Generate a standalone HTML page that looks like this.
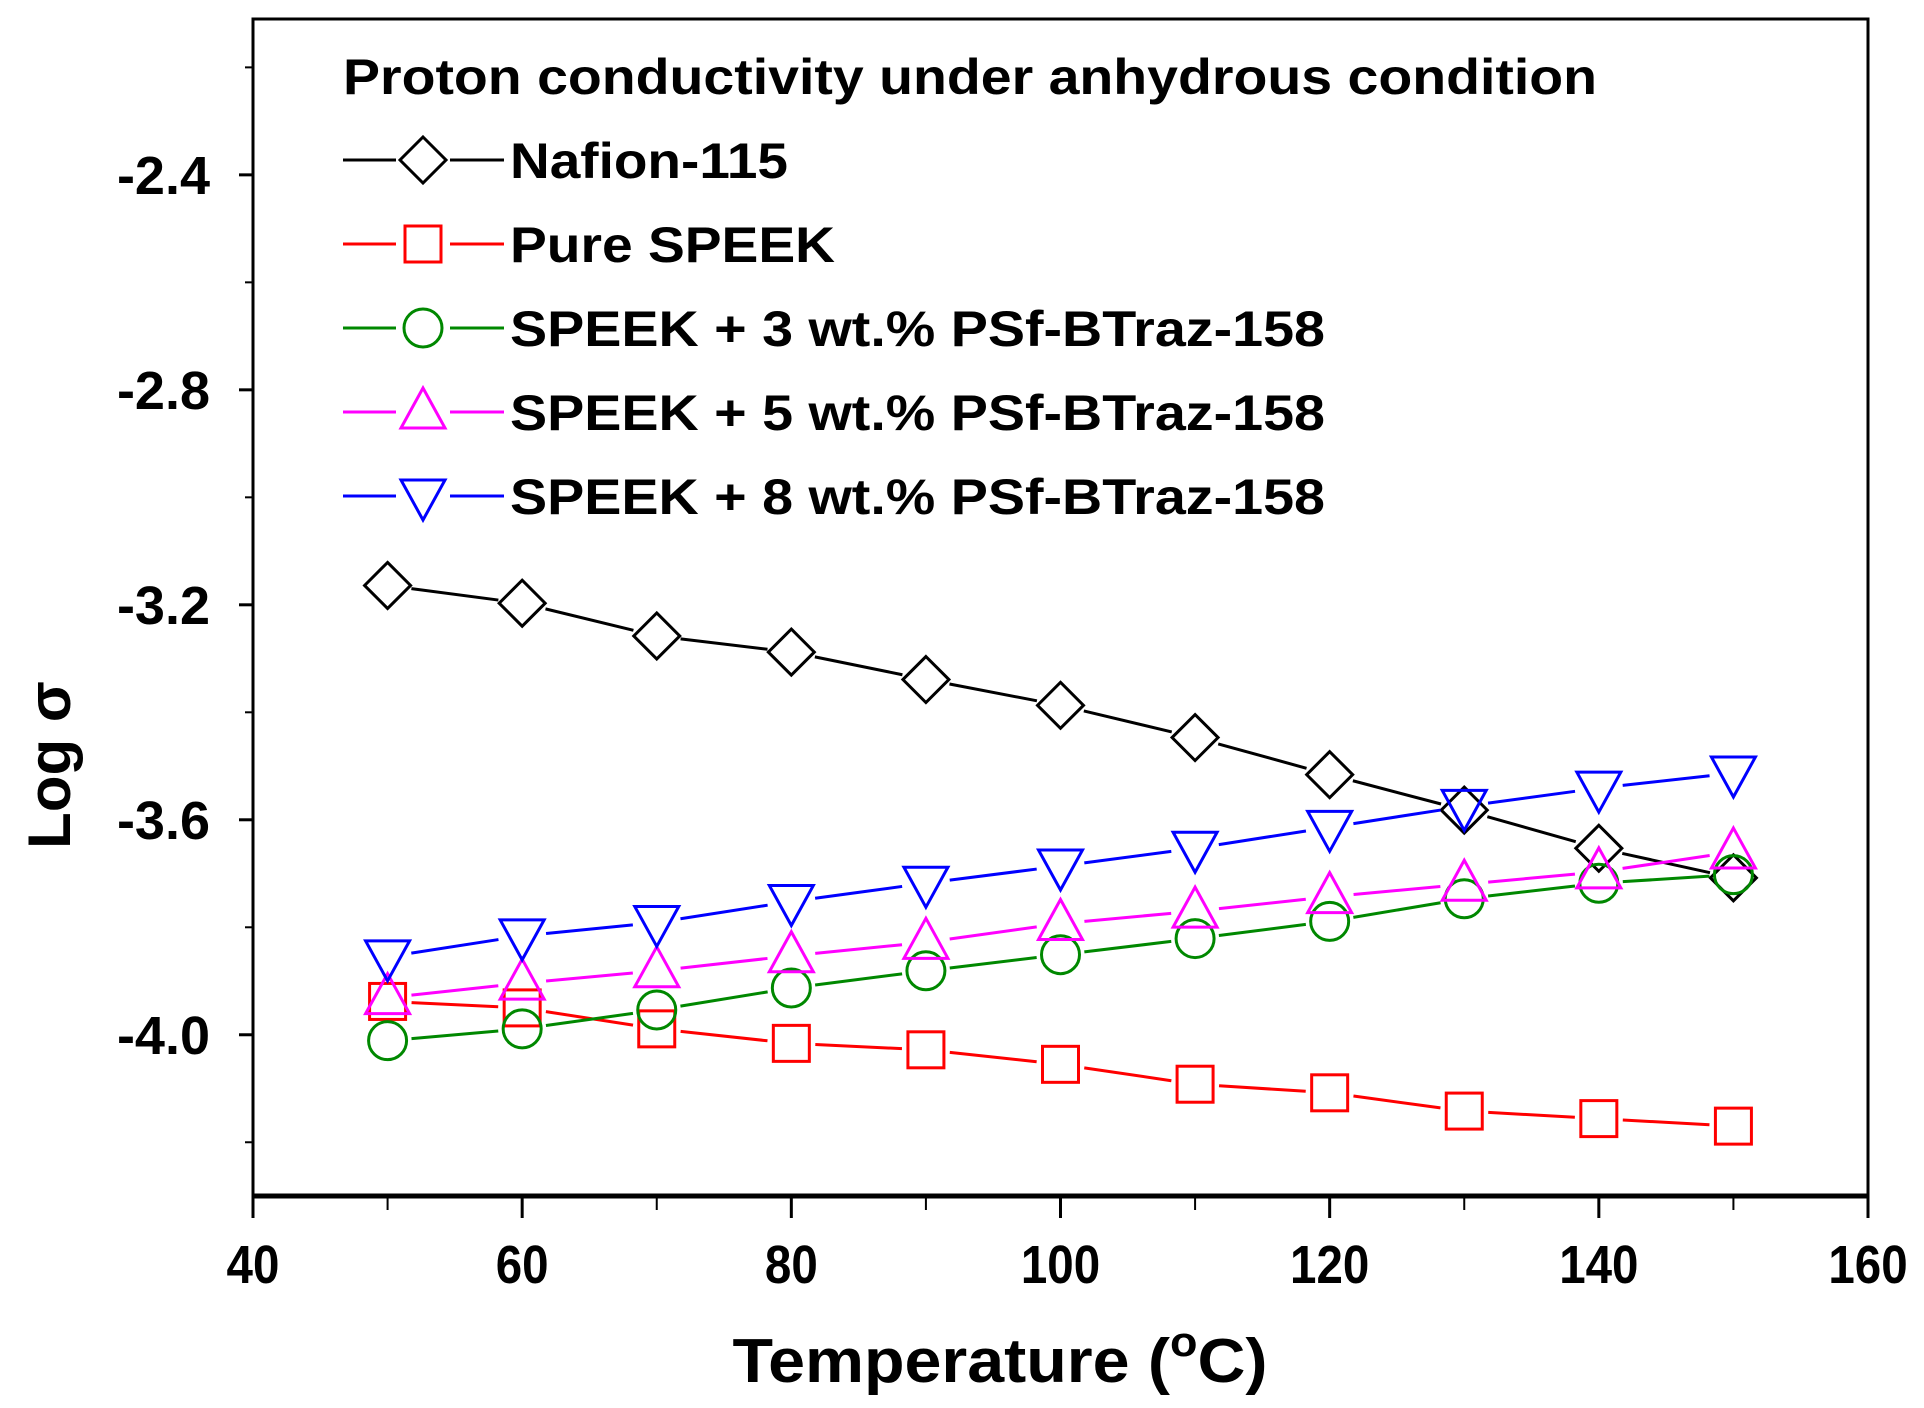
<!DOCTYPE html>
<html><head><meta charset="utf-8"><style>
body{margin:0;background:#fff}
svg{display:block}
text{font-family:"Liberation Sans",Arial,sans-serif;font-weight:bold;fill:#000}
</style></head><body>
<svg id="chart" width="1924" height="1408" viewBox="0 0 1924 1408" xmlns="http://www.w3.org/2000/svg">
<rect x="253" y="19" width="1615" height="1177" fill="none" stroke="#000" stroke-width="3"/>
<line x1="253" x2="1868" y1="1196" y2="1196" stroke="#000" stroke-width="5"/>
<g id="axes"></g>
<g id="series"></g>
<g id="legend"></g>
<text x="1000" y="1382" font-size="62" text-anchor="middle" textLength="535" lengthAdjust="spacingAndGlyphs">Temperature  (<tspan dy="-26" font-size="42">o</tspan><tspan dy="26">C)</tspan></text>
<text x="0" y="0" font-size="60" text-anchor="middle" transform="translate(70 765) rotate(-90)">Log σ</text>
</svg>
<script>
const temps=[50,60,70,80,90,100,110,120,130,140,150];
const nafion=[-3.164,-3.197,-3.258,-3.288,-3.339,-3.387,-3.447,-3.516,-3.582,-3.653,-3.708];
const pureSpeek=[-3.938,-3.95,-3.989,-4.016,-4.028,-4.055,-4.092,-4.108,-4.142,-4.156,-4.170];
const speek3=[-4.011,-3.989,-3.954,-3.913,-3.881,-3.851,-3.821,-3.789,-3.747,-3.718,-3.702];
const speek5=[-3.931,-3.904,-3.881,-3.853,-3.828,-3.793,-3.770,-3.743,-3.720,-3.697,-3.660];
const speek8=[-3.855,-3.816,-3.791,-3.752,-3.718,-3.686,-3.653,-3.614,-3.575,-3.541,-3.513];
const xTicks=[40,60,80,100,120,140,160];
const yTicks=[-2.4,-2.8,-3.2,-3.6,-4.0];
const yTickLabels=["-2.4","-2.8","-3.2","-3.6","-4.0"];
const legendLabels=["Nafion-115","Pure SPEEK","SPEEK + 3 wt.% PSf-BTraz-158","SPEEK + 5 wt.% PSf-BTraz-158","SPEEK + 8 wt.% PSf-BTraz-158"];
const legendWidths=[278,325,815,815,815];

const NS="http://www.w3.org/2000/svg";
const X0=253,X1=1868,Y0=1196,Y1=19;
const xMin=40,xMax=160,yMin=-4.30,yMax=-2.11;
function sx(v){return X0+(v-xMin)/(xMax-xMin)*(X1-X0);}
function sy(v){return Y0-(v-yMin)/(yMax-yMin)*(Y0-Y1);}
function mk(tag,attrs,parent){const e=document.createElementNS(NS,tag);for(const k in attrs)e.setAttribute(k,attrs[k]);parent.appendChild(e);return e;}
const axes=document.getElementById('axes');
xTicks.forEach((t,i)=>{
  const l=mk('line',{x1:sx(t),x2:sx(t),y1:Y0,y2:Y0+22,stroke:'#000','stroke-width':3},axes);
  
  
  if(i<xTicks.length-1){
    const m=mk('line',{x1:sx(t+10),x2:sx(t+10),y1:Y0,y2:Y0+14,stroke:'#000','stroke-width':2},axes);
    
    
  }
  const tx=mk('text',{x:sx(t),y:1283,'font-size':54,'text-anchor':'middle',transform:`translate(${sx(t)} 0) scale(0.88 1) translate(${-sx(t)} 0)`},axes);
  tx.textContent=String(t);
  
  
});
yTicks.forEach((t,i)=>{
  const l=mk('line',{x1:X0-14,x2:X0,y1:sy(t),y2:sy(t),stroke:'#000','stroke-width':3},axes);
  
  
  const tx=mk('text',{x:X0-43,y:sy(t)+19,'font-size':54,'text-anchor':'end'},axes);
  tx.textContent=yTickLabels[i];
  
  
});
[-2.2,-2.6,-3.0,-3.4,-3.8,-4.2].forEach(t=>{
  const m=mk('line',{x1:X0-8,x2:X0,y1:sy(t),y2:sy(t),stroke:'#000','stroke-width':2},axes);
  
  
});

function marker(type,x,y,color,g){
  let e;
  if(type==='diamond') e=mk('polygon',{points:`${x},${y-23} ${x+23},${y} ${x},${y+23} ${x-23},${y}`},g);
  else if(type==='square') e=mk('rect',{x:x-18,y:y-18,width:36,height:36},g);
  else if(type==='circle') e=mk('circle',{cx:x,cy:y,r:19},g);
  else if(type==='up') e=mk('polygon',{points:`${x},${y-24} ${x+22},${y+16} ${x-22},${y+16}`},g);
  else e=mk('polygon',{points:`${x},${y+24} ${x+22},${y-16} ${x-22},${y-16}`},g);
  e.setAttribute('fill','none');e.setAttribute('stroke',color);e.setAttribute('stroke-width',3);
  return e;
}
const seriesDefs=[[nafion,'#000','diamond','nafion'],[pureSpeek,'#f00','square','pure-speek'],[speek3,'#080','circle','speek-3wt'],[speek5,'#f0f','up','speek-5wt'],[speek8,'#00f','down','speek-8wt']];
const sg=document.getElementById('series');
seriesDefs.forEach(([vals,color,type,name])=>{
  const g=mk('g',{},sg);
  
  
  for(let i=0;i<vals.length-1;i++){
    const xa=sx(temps[i]),ya=sy(vals[i]),xb=sx(temps[i+1]),yb=sy(vals[i+1]);
    const d=Math.hypot(xb-xa,yb-ya),g1=24/d;
    const ln=mk('line',{x1:xa+(xb-xa)*g1,y1:ya+(yb-ya)*g1,x2:xb-(xb-xa)*g1,y2:yb-(yb-ya)*g1,stroke:color,'stroke-width':3},g);
    
    
  }
  vals.forEach((v,i)=>{
    const m=marker(type,sx(temps[i]),sy(v),color,g);
    
    
  });
});
const lg=document.getElementById('legend');
const title=mk('text',{x:343,y:94,'font-size':50,textLength:1254,lengthAdjust:'spacingAndGlyphs'},lg);
title.textContent='Proton conductivity under anhydrous condition';


const legY=[160,244,328,412,496];
seriesDefs.forEach(([vals,color,type,name],i)=>{
  const y=legY[i];
  const l1=mk('line',{x1:343,x2:396,y1:y,y2:y,stroke:color,'stroke-width':3},lg);
  
  
  const l2=mk('line',{x1:450,x2:504,y1:y,y2:y,stroke:color,'stroke-width':3},lg);
  
  
  const m=marker(type,423,y,color,lg);
  
  
  const t=mk('text',{x:510,y:y+18,'font-size':50,textLength:legendWidths[i],lengthAdjust:'spacingAndGlyphs'},lg);
  t.textContent=legendLabels[i];
  
  
});
</script>
</body></html>
